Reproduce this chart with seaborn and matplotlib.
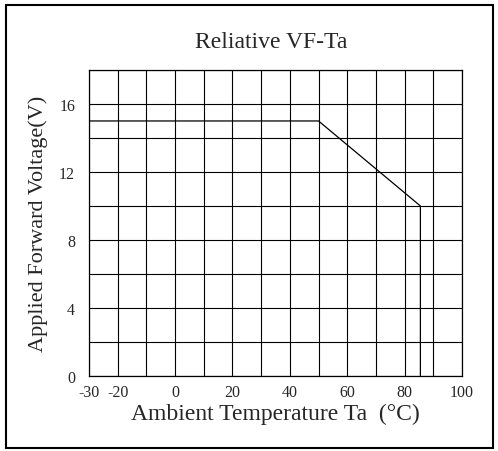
import matplotlib
matplotlib.use("Agg")
import matplotlib.pyplot as plt
import seaborn as sns
import pandas as pd
from matplotlib.patches import Rectangle

# derating curve
temp = [-30, 50, 85.5, 85.5]
vf = [15, 15, 10, 0]

# grid positions and the labels shown on them
x_grid = list(range(-30, 101, 10))
x_labels = ["-30", "-20", "", "0", "", "20", "", "40", "", "60", "", "80", "", "100"]
y_grid = list(range(0, 19, 2))
y_labels = ["0", "", "4", "", "8", "", "12", "", "16", ""]

sns.set_style("white")
plt.rcParams['font.family'] = ['Liberation Serif', 'DejaVu Serif']

df = pd.DataFrame({'Ta': temp, 'VF': vf})

fig = plt.figure(figsize=(4.98, 4.52), dpi=100)
ax = fig.add_axes([0.1787, 0.166, 0.749, 0.677])

# estimator=None so the two points at 85.5 are not averaged
sns.lineplot(data=df, x='Ta', y='VF', sort=False, estimator=None,
             color='black', linewidth=0.9, ax=ax, zorder=3)

ax.set_xlim(-30, 100)
ax.set_ylim(0, 18)
ax.set_xticks(x_grid)
ax.set_xticklabels(x_labels, fontsize=11.5)
ax.set_yticks(y_grid)
ax.set_yticklabels(y_labels, fontsize=11.5)
ax.tick_params(length=0)
ax.tick_params(axis='x', pad=6)
ax.tick_params(axis='y', pad=10)
ax.grid(True, color='black', linewidth=0.8)
for s in ax.spines.values():
    s.set_color('black')
    s.set_linewidth(0.9)

ax.set_xlabel('Ambient Temperature Ta  (°C)', fontsize=17, labelpad=2)
ax.set_ylabel('Applied Forward Voltage(V)', fontsize=16, labelpad=8)
fig.text(0.545, 0.907, 'Reliative VF-Ta', fontsize=17, ha='center', va='center')

# outer frame round the whole picture
fig.patches.append(Rectangle((0.013, 0.007), 0.976, 0.98, transform=fig.transFigure,
                             fill=False, edgecolor='black', linewidth=1.5))

fig.savefig('out.png', dpi=100, facecolor='white')
plt.close()
